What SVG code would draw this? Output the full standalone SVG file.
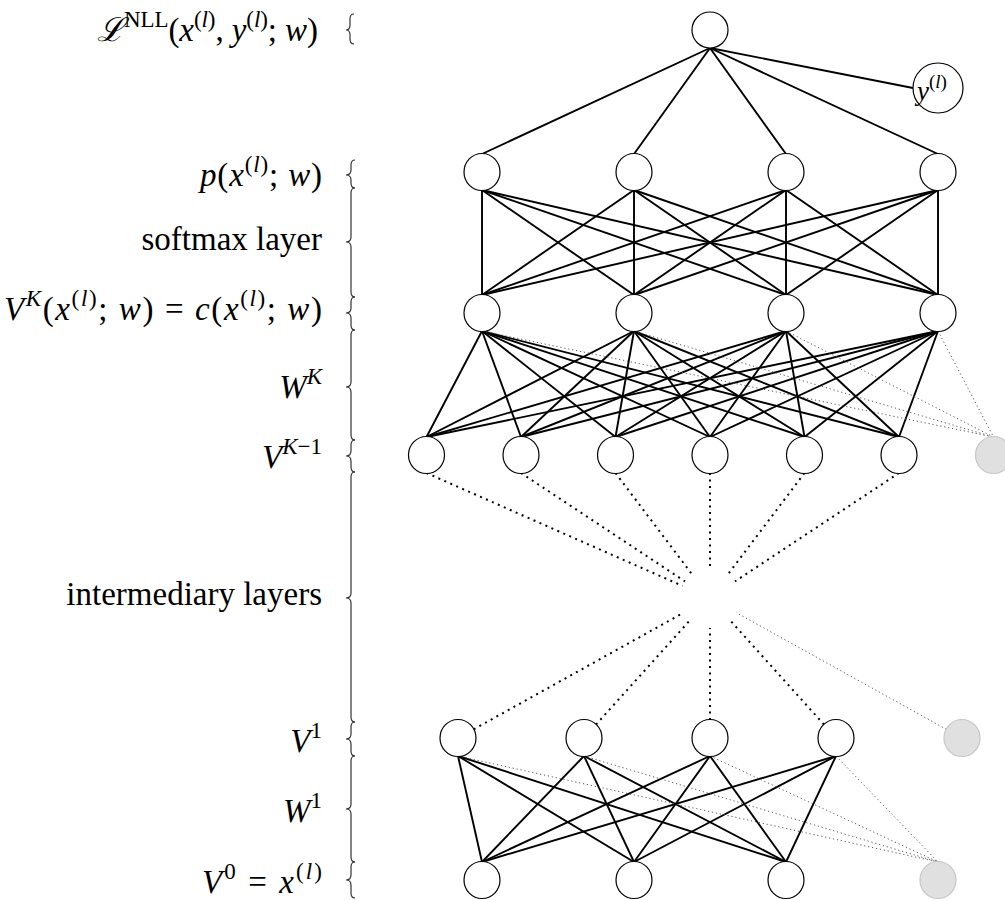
<svg xmlns="http://www.w3.org/2000/svg" width="1005" height="900" viewBox="0 0 1005 900">
<style>
.lbl{font-family:"Liberation Serif","DejaVu Serif",serif;font-size:33px;fill:#000;text-anchor:end}
.i{font-style:italic}
.s{font-size:23px}
.n{fill:#fff;stroke:#000;stroke-width:1.2}
.b{fill:#e0e0e0;stroke:#c6c6c6;stroke-width:1.2}
.e{stroke:#000;stroke-width:1.9;fill:none}
.d{stroke:#000;stroke-width:2;stroke-dasharray:2 4.5;fill:none}
.g{stroke:#555;stroke-width:1;stroke-dasharray:1.2 2.8;fill:none}
.br{stroke:#333;stroke-width:1.2;fill:none}
</style>
<rect width="1005" height="900" fill="#fff"/>
<g id="connectors">
<line class="e" x1="710" y1="48" x2="482" y2="154"/>
<line class="e" x1="710" y1="48" x2="634" y2="154"/>
<line class="e" x1="710" y1="48" x2="786" y2="154"/>
<line class="e" x1="710" y1="48" x2="938" y2="154"/>
<line class="e" x1="710" y1="48" x2="913" y2="88"/>
<line class="e" x1="482" y1="190" x2="482" y2="295"/>
<line class="e" x1="482" y1="190" x2="634" y2="295"/>
<line class="e" x1="482" y1="190" x2="786" y2="295"/>
<line class="e" x1="482" y1="190" x2="938" y2="295"/>
<line class="e" x1="634" y1="190" x2="482" y2="295"/>
<line class="e" x1="634" y1="190" x2="634" y2="295"/>
<line class="e" x1="634" y1="190" x2="786" y2="295"/>
<line class="e" x1="634" y1="190" x2="938" y2="295"/>
<line class="e" x1="786" y1="190" x2="482" y2="295"/>
<line class="e" x1="786" y1="190" x2="634" y2="295"/>
<line class="e" x1="786" y1="190" x2="786" y2="295"/>
<line class="e" x1="786" y1="190" x2="938" y2="295"/>
<line class="e" x1="938" y1="190" x2="482" y2="295"/>
<line class="e" x1="938" y1="190" x2="634" y2="295"/>
<line class="e" x1="938" y1="190" x2="786" y2="295"/>
<line class="e" x1="938" y1="190" x2="938" y2="295"/>
<line class="e" x1="482" y1="331" x2="426.5" y2="437"/>
<line class="e" x1="482" y1="331" x2="521" y2="437"/>
<line class="e" x1="482" y1="331" x2="615.5" y2="437"/>
<line class="e" x1="482" y1="331" x2="710" y2="437"/>
<line class="e" x1="482" y1="331" x2="804.5" y2="437"/>
<line class="e" x1="482" y1="331" x2="899" y2="437"/>
<line class="e" x1="634" y1="331" x2="426.5" y2="437"/>
<line class="e" x1="634" y1="331" x2="521" y2="437"/>
<line class="e" x1="634" y1="331" x2="615.5" y2="437"/>
<line class="e" x1="634" y1="331" x2="710" y2="437"/>
<line class="e" x1="634" y1="331" x2="804.5" y2="437"/>
<line class="e" x1="634" y1="331" x2="899" y2="437"/>
<line class="e" x1="786" y1="331" x2="426.5" y2="437"/>
<line class="e" x1="786" y1="331" x2="521" y2="437"/>
<line class="e" x1="786" y1="331" x2="615.5" y2="437"/>
<line class="e" x1="786" y1="331" x2="710" y2="437"/>
<line class="e" x1="786" y1="331" x2="804.5" y2="437"/>
<line class="e" x1="786" y1="331" x2="899" y2="437"/>
<line class="e" x1="938" y1="331" x2="426.5" y2="437"/>
<line class="e" x1="938" y1="331" x2="521" y2="437"/>
<line class="e" x1="938" y1="331" x2="615.5" y2="437"/>
<line class="e" x1="938" y1="331" x2="710" y2="437"/>
<line class="e" x1="938" y1="331" x2="804.5" y2="437"/>
<line class="e" x1="938" y1="331" x2="899" y2="437"/>
<line class="g" x1="482" y1="331" x2="993.5" y2="437"/>
<line class="g" x1="634" y1="331" x2="993.5" y2="437"/>
<line class="g" x1="786" y1="331" x2="993.5" y2="437"/>
<line class="g" x1="938" y1="331" x2="993.5" y2="437"/>
<line class="d" x1="426.5" y1="473" x2="682.5" y2="585.9"/>
<line class="d" x1="521" y1="473" x2="685" y2="581.4"/>
<line class="d" x1="615.5" y1="473" x2="691.9" y2="574.1"/>
<line class="d" x1="710" y1="473" x2="710" y2="568"/>
<line class="d" x1="804.5" y1="473" x2="728.1" y2="574.1"/>
<line class="d" x1="899" y1="473" x2="735" y2="581.4"/>
<line class="d" x1="473.7" y1="729.3" x2="683.8" y2="612.6"/>
<line class="d" x1="596" y1="724.6" x2="689.9" y2="620.3"/>
<line class="d" x1="710" y1="720" x2="710" y2="628"/>
<line class="d" x1="824" y1="724.6" x2="730.1" y2="620.3"/>
<line class="g" x1="946.3" y1="729.3" x2="736.2" y2="612.6"/>
<line class="e" x1="458" y1="756" x2="482" y2="862"/>
<line class="e" x1="458" y1="756" x2="634" y2="862"/>
<line class="e" x1="458" y1="756" x2="786" y2="862"/>
<line class="e" x1="584" y1="756" x2="482" y2="862"/>
<line class="e" x1="584" y1="756" x2="634" y2="862"/>
<line class="e" x1="584" y1="756" x2="786" y2="862"/>
<line class="e" x1="710" y1="756" x2="482" y2="862"/>
<line class="e" x1="710" y1="756" x2="634" y2="862"/>
<line class="e" x1="710" y1="756" x2="786" y2="862"/>
<line class="e" x1="836" y1="756" x2="482" y2="862"/>
<line class="e" x1="836" y1="756" x2="634" y2="862"/>
<line class="e" x1="836" y1="756" x2="786" y2="862"/>
<line class="g" x1="458" y1="756" x2="938" y2="862"/>
<line class="g" x1="584" y1="756" x2="938" y2="862"/>
<line class="g" x1="710" y1="756" x2="938" y2="862"/>
<line class="g" x1="836" y1="756" x2="938" y2="862"/>
</g>
<g id="loss"><ellipse class="n" cx="710" cy="30" rx="18" ry="18"/></g>
<g id="label-y"><circle class="n" cx="938" cy="88" r="25"/>
<text class="lbl" style="text-anchor:start" x="917" y="100"><tspan class="i" font-size="27">y</tspan><tspan font-size="19" dy="-12">(</tspan><tspan font-size="19" class="i">l</tspan><tspan font-size="19">)</tspan></text></g>
<g id="softmax-out">
<ellipse class="n" cx="482" cy="172" rx="18" ry="18.5"/>
<ellipse class="n" cx="634" cy="172" rx="18" ry="18.5"/>
<ellipse class="n" cx="786" cy="172" rx="18" ry="18.5"/>
<ellipse class="n" cx="938" cy="172" rx="18" ry="18.5"/>
</g>
<g id="layer-K">
<ellipse class="n" cx="482" cy="313" rx="18" ry="18.5"/>
<ellipse class="n" cx="634" cy="313" rx="18" ry="18.5"/>
<ellipse class="n" cx="786" cy="313" rx="18" ry="18.5"/>
<ellipse class="n" cx="938" cy="313" rx="18" ry="18.5"/>
</g>
<g id="layer-K-1">
<ellipse class="n" cx="426.5" cy="455" rx="18" ry="18.5"/>
<ellipse class="n" cx="521" cy="455" rx="18" ry="18.5"/>
<ellipse class="n" cx="615.5" cy="455" rx="18" ry="18.5"/>
<ellipse class="n" cx="710" cy="455" rx="18" ry="18.5"/>
<ellipse class="n" cx="804.5" cy="455" rx="18" ry="18.5"/>
<ellipse class="n" cx="899" cy="455" rx="18" ry="18.5"/>
<ellipse class="b" cx="993.5" cy="455" rx="18" ry="18.5"/>
</g>
<g id="layer-1">
<ellipse class="n" cx="458" cy="738" rx="18" ry="18.5"/>
<ellipse class="n" cx="584" cy="738" rx="18" ry="18.5"/>
<ellipse class="n" cx="710" cy="738" rx="18" ry="18.5"/>
<ellipse class="n" cx="836" cy="738" rx="18" ry="18.5"/>
<ellipse class="b" cx="962" cy="738" rx="18" ry="18.5"/>
</g>
<g id="layer-0">
<ellipse class="n" cx="482" cy="880" rx="18" ry="18.5"/>
<ellipse class="n" cx="634" cy="880" rx="18" ry="18.5"/>
<ellipse class="n" cx="786" cy="880" rx="18" ry="18.5"/>
<ellipse class="b" cx="938" cy="880" rx="18" ry="18.5"/>
</g>
<g id="braces">
<path class="br" d="M354,14 Q350,14 350,19 L350,25 Q350,30 346,30 Q350,30 350,35 L350,39 Q350,44 354,44"/>
<path class="br" d="M355,160 Q351,160 351,165 L351,170 Q351,175 346,175 Q351,175 351,180 L351,183 Q351,188 355,188"/>
<path class="br" d="M355,188 Q351,188 351,193 L351,237 Q351,242 346,242 Q351,242 351,247 L351,292 Q351,297 355,297"/>
<path class="br" d="M355,297 Q351,297 351,302 L351,308 Q351,313 346,313 Q351,313 351,318 L351,325 Q351,330 355,330"/>
<path class="br" d="M355,330 Q351,330 351,335 L351,382 Q351,387 346,387 Q351,387 351,392 L351,435 Q351,440 355,440"/>
<path class="br" d="M355,440 Q351,440 351,445 L351,451 Q351,456 346,456 Q351,456 351,461 L351,467 Q351,472 355,472"/>
<path class="br" d="M355,472 Q351,472 351,477 L351,593 Q351,598 346,598 Q351,598 351,603 L351,717 Q351,722 355,722"/>
<path class="br" d="M355,722 Q351,722 351,727 L351,734 Q351,739 346,739 Q351,739 351,744 L351,751 Q351,756 355,756"/>
<path class="br" d="M355,756 Q351,756 351,761 L351,804 Q351,809 346,809 Q351,809 351,814 L351,857 Q351,862 355,862"/>
<path class="br" d="M355,862 Q351,862 351,867 L351,875 Q351,880 346,880 Q351,880 351,885 L351,893 Q351,898 355,898"/>
</g>
<g id="labels">
<text class="lbl" x="318" y="41" textLength="221" lengthAdjust="spacing"><tspan class="i" font-family="DejaVu Serif,serif">ℒ</tspan><tspan class="s" dy="-14">NLL</tspan><tspan dy="14">(</tspan><tspan class="i">x</tspan><tspan class="s" dy="-14">(</tspan><tspan class="s i">l</tspan><tspan class="s">)</tspan><tspan dy="14">, </tspan><tspan class="i">y</tspan><tspan class="s" dy="-14">(</tspan><tspan class="s i">l</tspan><tspan class="s">)</tspan><tspan dy="14">; </tspan><tspan class="i">w</tspan>)</text>
<text class="lbl" x="322" y="186" textLength="122" lengthAdjust="spacing"><tspan class="i">p</tspan>(<tspan class="i">x</tspan><tspan class="s" dy="-14">(</tspan><tspan class="s i">l</tspan><tspan class="s">)</tspan><tspan dy="14">; </tspan><tspan class="i">w</tspan>)</text>
<text class="lbl" x="322" y="250">softmax layer</text>
<text class="lbl" x="322" y="320" textLength="318" lengthAdjust="spacing"><tspan class="i">V</tspan><tspan class="s i" dy="-14">K</tspan><tspan dy="14">(</tspan><tspan class="i">x</tspan><tspan class="s" dy="-14">(</tspan><tspan class="s i">l</tspan><tspan class="s">)</tspan><tspan dy="14">; </tspan><tspan class="i">w</tspan>) = <tspan class="i">c</tspan>(<tspan class="i">x</tspan><tspan class="s" dy="-14">(</tspan><tspan class="s i">l</tspan><tspan class="s">)</tspan><tspan dy="14">; </tspan><tspan class="i">w</tspan>)</text>
<text class="lbl" x="322" y="398"><tspan class="i">W</tspan><tspan class="s i" dy="-14">K</tspan></text>
<text class="lbl" x="322" y="468"><tspan class="i">V</tspan><tspan class="s" dy="-14"><tspan class="i">K</tspan>−1</tspan></text>
<text class="lbl" x="322" y="605">intermediary layers</text>
<text class="lbl" x="322" y="752"><tspan class="i">V</tspan><tspan class="s" dy="-14">1</tspan></text>
<text class="lbl" x="322" y="822"><tspan class="i">W</tspan><tspan class="s" dy="-14">1</tspan></text>
<text class="lbl" x="322" y="893" textLength="120" lengthAdjust="spacing"><tspan class="i">V</tspan><tspan class="s" dy="-14">0</tspan><tspan dy="14"> = </tspan><tspan class="i">x</tspan><tspan class="s" dy="-14">(</tspan><tspan class="s i">l</tspan><tspan class="s">)</tspan></text>
</g>
</svg>
